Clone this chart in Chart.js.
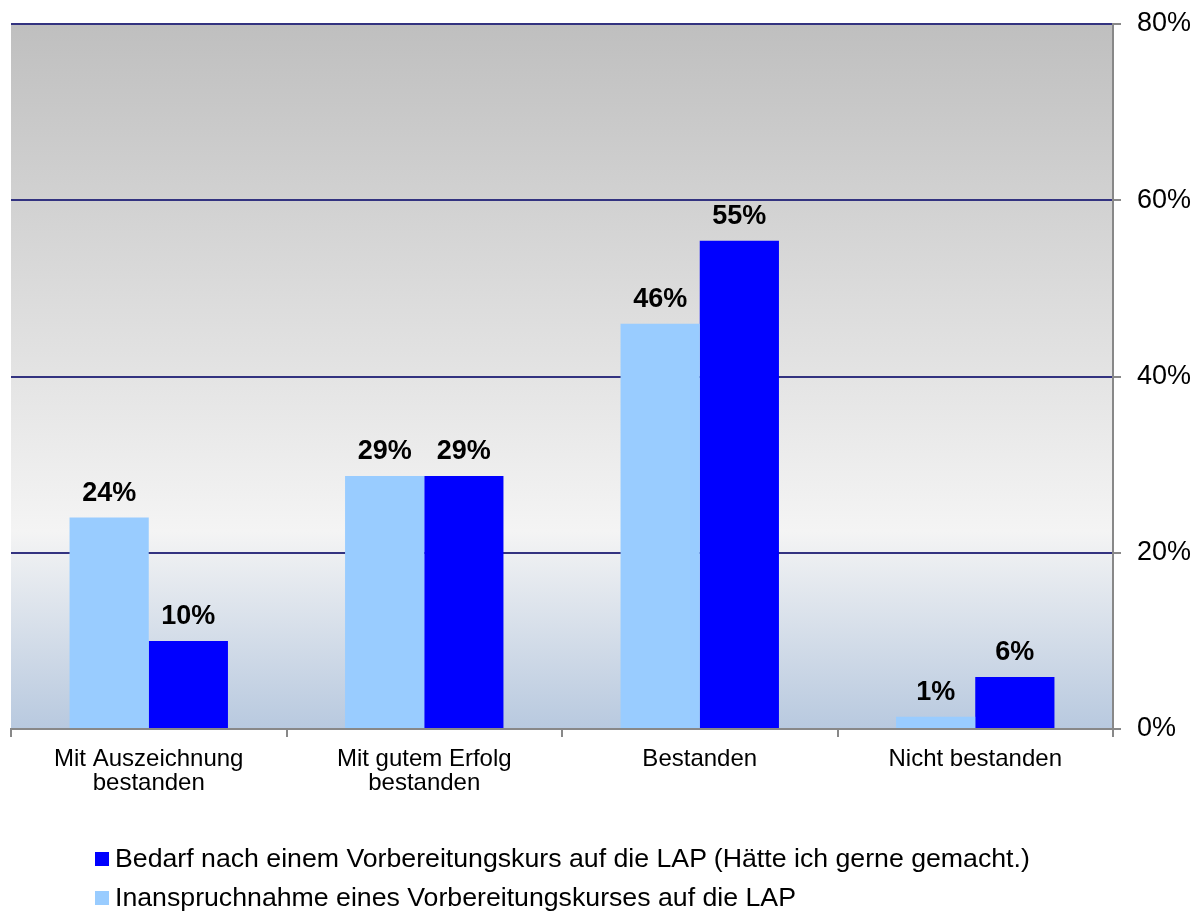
<!DOCTYPE html>
<html>
<head>
<meta charset="utf-8">
<script src="https://cdn.jsdelivr.net/npm/chart.js@4"></script>
<style>
	body { margin: 0; background: #fff; }
	#wrap { position: relative; width: 1193px; height: 911px; }
	#legend { position: absolute; left: 95px; top: 841px; font-family: "Liberation Sans", Arial, sans-serif; font-size: 26.7px; color: #000; }
	#legend div { height: 39px; line-height: 34px; white-space: nowrap; }
	#legend span.box { display: inline-block; width: 14px; height: 14px; margin-right: 6px; vertical-align: 1px; }
</style>
</head>
<body>
<div id="wrap">
	<canvas id="mycanvas" width="1193" height="911"></canvas>
	<div id="legend"></div>
</div>
<script>
var kategorien = [["Mit Auszeichnung", "bestanden"], ["Mit gutem Erfolg", "bestanden"], "Bestanden", "Nicht bestanden"];
var inanspruchnahme = [24, 28.7, 46, 1.4];
var bedarf = [10, 28.7, 55.4, 5.9];
var yTicks = [0, 20, 40, 60, 80];

var font = '"Liberation Sans", Arial, sans-serif';

// background gradient of the plot area
var bgPlugin = {
	id: 'bg',
	beforeDraw: function(chart) {
		var a = chart.chartArea;
		var c = chart.ctx;
		var g = c.createLinearGradient(0, a.top, 0, a.bottom);
		g.addColorStop(0, '#bfbfbf');
		g.addColorStop(0.72, '#f4f4f4');
		g.addColorStop(1, '#b8c9df');
		c.save();
		c.fillStyle = g;
		c.fillRect(a.left, a.top, a.right - a.left, a.bottom - a.top);
		c.restore();
	}
};

// value labels above the bars
var labelPlugin = {
	id: 'vals',
	afterDatasetsDraw: function(chart) {
		var c = chart.ctx;
		c.save();
		c.font = 'bold 27px ' + font;
		c.fillStyle = '#000';
		c.textAlign = 'center';
		c.textBaseline = 'alphabetic';
		chart.data.datasets.forEach(function(ds, i) {
			chart.getDatasetMeta(i).data.forEach(function(bar, j) {
				c.fillText(Math.round(ds.data[j]) + '%', bar.x, bar.y - 17);
			});
		});
		c.restore();
	}
};

var chartdata = {
	labels: kategorien,
	datasets: [
		{
			label: "Inanspruchnahme eines Vorbereitungskurses auf die LAP",
			backgroundColor: "#99ccff",
			data: inanspruchnahme
		},
		{
			label: "Bedarf nach einem Vorbereitungskurs auf die LAP (Hätte ich gerne gemacht.)",
			backgroundColor: "#0000ff",
			data: bedarf
		}
	]
};

var ctx = document.getElementById('mycanvas');

var BarGraph = new Chart(ctx, {
	type: 'bar',
	data: chartdata,
	plugins: [bgPlugin, labelPlugin],
	options: {
		responsive: false,
		animation: false,
		layout: { padding: { top: 24, left: 11, right: 0, bottom: 106 } },
		datasets: { bar: { categoryPercentage: 0.575, barPercentage: 1 } },
		plugins: {
			legend: { display: false },
			tooltip: { enabled: false }
		},
		scales: {
			x: {
				offset: true,
				grid: { offset: true, drawOnChartArea: false, color: '#888', tickLength: 8, lineWidth: 2 },
				border: { color: '#888', width: 2 },
				ticks: { color: '#000', font: { family: font, size: 24, lineHeight: 1.0 }, padding: 10 }
			},
			y: {
				position: 'right',
				min: 0,
				max: 80,
				afterBuildTicks: function(axis) {
					axis.ticks = yTicks.map(function(v) { return { value: v }; });
				},
				afterFit: function(axis) {
					axis.width = 80;
					axis.paddingTop = 0;
					axis.paddingBottom = 0;
				},
				grid: {
					color: function(c) { return c.tick && c.tick.value === 0 ? 'rgba(0,0,0,0)' : '#333380'; },
					tickColor: '#888',
					lineWidth: 2,
					tickLength: 8
				},
				border: { color: '#888', width: 2 },
				ticks: {
					color: '#000',
					padding: 16,
					font: { family: font, size: 27 },
					callback: function(v) { return v + '%'; }
				}
			}
		}
	}
});

// legend, dark series first like the original
var leg = document.getElementById('legend');
chartdata.datasets.slice().reverse().forEach(function(ds) {
	var row = document.createElement('div');
	var box = document.createElement('span');
	box.className = 'box';
	box.style.background = ds.backgroundColor;
	row.appendChild(box);
	row.appendChild(document.createTextNode(ds.label));
	leg.appendChild(row);
});
</script>
</body>
</html>
